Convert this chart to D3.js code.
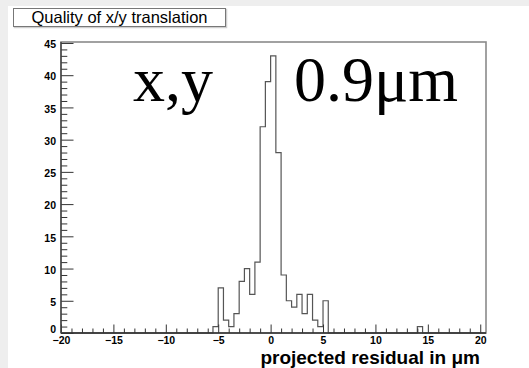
<!DOCTYPE html>
<html>
<head>
<meta charset="utf-8">
<script src="https://cdn.jsdelivr.net/npm/d3@7"></script>
<style>
  html, body { margin: 0; padding: 0; background: #ffffff; }
  svg { display: block; }
</style>
</head>
<body>
<script>
// Residual histogram: 0.5 µm bins, lower edge of each filled bin and its entries
const binWidth = 0.5;
const binLow = [-5.5, -5, -4.5, -4, -3.5, -3, -2.5, -2, -1.5, -1, -0.5, 0, 0.5,
                1, 1.5, 2, 2.5, 3, 3.5, 4, 4.5, 5, 14];
const counts = [1, 7, 2, 1, 3, 8, 10, 6, 11, 32, 39, 43, 28,
                9, 5, 4, 6, 3, 6, 2, 1, 5, 1];

const xMajorTicks = [-20, -15, -10, -5, 0, 5, 10, 15, 20];
const yMajorTicks = [0, 5, 10, 15, 20, 25, 30, 35, 40, 45];

const titleText = "Quality of x/y translation";
const xTitle = "projected residual in \u03bcm";
const bigLeft = "x,y";
const bigRight = "0.9\u03bcm";

const W = 529, H = 368;
const frame = { left: 61, right: 486, top: 42, bottom: 333 };

const svg = d3.select("body").append("svg")
  .attr("width", W).attr("height", H);

// canvas: pale grey surround with the white pad
svg.append("rect").attr("width", W).attr("height", H).attr("fill", "#eeeeee");
svg.append("rect").attr("x", 8).attr("y", 6).attr("width", W - 8).attr("height", H - 6)
  .attr("fill", "#ffffff");

const yMax = d3.max(counts) * 1.05;
const x = d3.scaleLinear().domain([-20, 20.55]).range([frame.left, frame.right]);
const y = d3.scaleLinear().domain([0, yMax]).range([frame.bottom, frame.top]);

// frame
svg.append("rect")
  .attr("x", frame.left).attr("y", frame.top)
  .attr("width", frame.right - frame.left).attr("height", frame.bottom - frame.top)
  .attr("fill", "none").attr("stroke", "#8a8a8a").attr("stroke-width", 1.6);

// histogram outline: a single step contour, empty stretches lie on the baseline
const pts = [[x.domain()[0], 0]];
let prevHi = null;
binLow.forEach((lo, i) => {
  if (prevHi !== null && Math.abs(prevHi - lo) > 1e-9) {
    pts.push([prevHi, 0], [lo, 0]);
  } else if (prevHi === null) {
    pts.push([lo, 0]);
  }
  pts.push([lo, counts[i]], [lo + binWidth, counts[i]]);
  prevHi = lo + binWidth;
});
pts.push([prevHi, 0], [x.domain()[1], 0]);
const line = d3.line().x(d => x(d[0])).y(d => y(d[1]));
svg.append("path").attr("d", line(pts))
  .attr("fill", "none").attr("stroke", "#555").attr("stroke-width", 1.2);

// x axis: majors every 5, minors every 1, ticks pointing into the frame
const xMinor = d3.range(-20, 21, 1).filter(v => !xMajorTicks.includes(v));
const xAxisMajor = d3.axisBottom(x).tickValues(xMajorTicks).tickSize(-8.5).tickPadding(5)
  .tickFormat(d3.format("d"));
const xAxisMinor = d3.axisBottom(x).tickValues(xMinor).tickSize(-4.5).tickFormat("");
const gxMinor = svg.append("g").attr("transform", `translate(0,${frame.bottom})`).call(xAxisMinor);
const gx = svg.append("g").attr("transform", `translate(0,${frame.bottom})`).call(xAxisMajor);
[gx, gxMinor].forEach(g => {
  g.select(".domain").remove();
  g.selectAll("line").attr("stroke", "#333").attr("stroke-width", 1);
});
gx.selectAll("text")
  .attr("font-family", "'Liberation Sans', Arial, sans-serif")
  .attr("font-weight", "bold").attr("font-size", 10.5).attr("fill", "#000")
  .attr("dy", "0.6em");
svg.append("line")
  .attr("x1", frame.left).attr("x2", frame.right)
  .attr("y1", frame.bottom).attr("y2", frame.bottom)
  .attr("stroke", "#333").attr("stroke-width", 1.4);

// y axis
const yMinor = d3.range(0, 46, 1).filter(v => !yMajorTicks.includes(v));
const yAxisMajor = d3.axisLeft(y).tickValues(yMajorTicks).tickSize(-12.5).tickPadding(5)
  .tickFormat(d3.format("d"));
const yAxisMinor = d3.axisLeft(y).tickValues(yMinor).tickSize(-6.3).tickFormat("");
const gyMinor = svg.append("g").attr("transform", `translate(${frame.left},0)`).call(yAxisMinor);
const gy = svg.append("g").attr("transform", `translate(${frame.left},0)`).call(yAxisMajor);
[gy, gyMinor].forEach(g => {
  g.select(".domain").remove();
  g.selectAll("line").attr("stroke", "#333").attr("stroke-width", 1);
});
gy.selectAll("text")
  .attr("font-family", "'Liberation Sans', Arial, sans-serif")
  .attr("font-weight", "bold").attr("font-size", 10.5).attr("fill", "#000")
  .attr("dy", d => d === 0 ? "-0.05em" : "0.45em");
svg.append("line")
  .attr("x1", frame.left).attr("x2", frame.left)
  .attr("y1", frame.top).attr("y2", frame.bottom)
  .attr("stroke", "#444").attr("stroke-width", 1.4);

// x axis title, right-aligned to the axis end
svg.append("text")
  .attr("x", 480).attr("y", 364)
  .attr("text-anchor", "end")
  .attr("font-family", "'Liberation Sans', Arial, sans-serif")
  .attr("font-weight", "bold").attr("font-size", 19)
  .text(xTitle);

// title box
svg.append("rect")
  .attr("x", 14.5).attr("y", 9.5).attr("width", 212).attr("height", 18)
  .attr("fill", "none").attr("stroke", "#cfcfcf").attr("stroke-width", 1.5);
svg.append("rect")
  .attr("x", 13.5).attr("y", 8.5).attr("width", 212).attr("height", 18)
  .attr("fill", "#ffffff").attr("stroke", "#777").attr("stroke-width", 1);
svg.append("text")
  .attr("x", 119.5).attr("y", 22.5)
  .attr("text-anchor", "middle")
  .attr("font-family", "'Liberation Sans', Arial, sans-serif")
  .attr("font-size", 16.5).attr("fill", "#000")
  .text(titleText);

// large annotation
const serif = "'Liberation Serif', 'Times New Roman', serif";
svg.append("text").attr("x", 133).attr("y", 101)
  .attr("font-family", serif).attr("font-size", 64).text(bigLeft);
svg.append("text").attr("x", 294).attr("y", 101)
  .attr("font-family", serif).attr("font-size", 64).text(bigRight);
</script>
</body>
</html>
